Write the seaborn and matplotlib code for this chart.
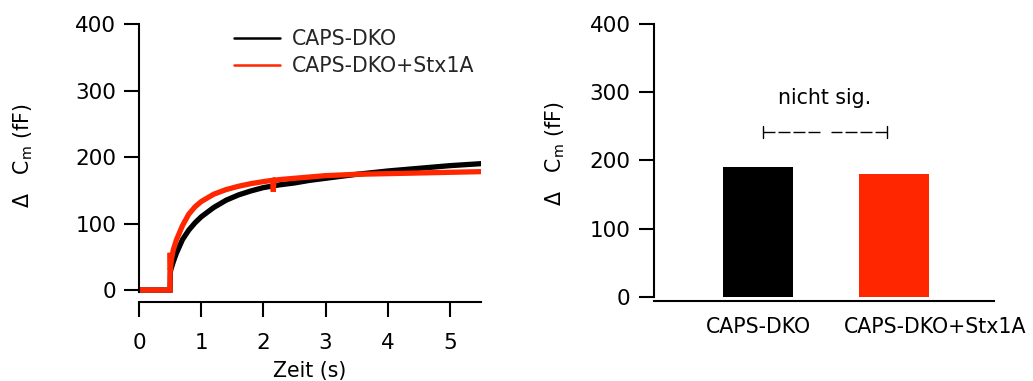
import matplotlib
matplotlib.use("Agg")
import matplotlib.pyplot as plt
import matplotlib.transforms as mtransforms
import seaborn as sns
import pandas as pd

# ---------------- data ----------------
series_names = ["CAPS-DKO", "CAPS-DKO+Stx1A"]
colors = ["#000000", "#ff2600"]

t_dko = [0.0, 0.2, 0.49, 0.5, 0.505, 0.52, 0.55, 0.6, 0.7, 0.8, 0.9, 1.0, 1.2, 1.4,
         1.6, 1.8, 2.0, 2.25, 2.5, 2.75, 3.0, 3.5, 4.0, 4.5, 5.0, 5.5]
cm_dko = [0, 0, 0, 0, 28, 33, 42, 55, 76, 90, 101, 110, 124, 135,
          143, 149, 154, 158, 161, 165, 168, 174, 179, 183, 187, 190]

t_stx = [0.0, 0.2, 0.49, 0.5, 0.502, 0.505, 0.52, 0.55, 0.6, 0.7, 0.8, 0.9, 1.0, 1.2,
         1.4, 1.6, 1.8, 2.0, 2.15, 2.16, 2.17, 2.25, 2.5, 2.75, 3.0, 3.5, 4.0, 4.5,
         5.0, 5.5]
cm_stx = [0, 0, 0, 0, 56, 30, 45, 60, 75, 97, 114, 125, 133, 144,
          151, 156, 160, 163, 165, 148, 165, 166, 168, 170, 172, 174, 175, 176,
          177, 178]

bar_categories = ["CAPS-DKO", "CAPS-DKO+Stx1A"]
bar_values = [191, 180]

sig_text = "nicht sig."
ylabel_text = r"$\Delta$   C$_{\mathrm{m}}$ (fF)"
xlabel_text = "Zeit (s)"
y_ticks = [0, 100, 200, 300, 400]
x_ticks = [0, 1, 2, 3, 4, 5]

# ---------------- style ----------------
sns.set_theme(style="ticks")
plt.rcParams["font.family"] = ["DejaVu Sans"]
plt.rcParams["mathtext.fontset"] = "dejavusans"
FS = 14.8
FS_NUM = 15.5

fig = plt.figure(figsize=(10.33, 3.81), dpi=100)
ax1 = fig.add_axes([139 / 1033, (381 - 302) / 381, 342 / 1033, 278 / 381])
ax2 = fig.add_axes([654 / 1033, (381 - 301) / 381, 340 / 1033, 277 / 381])

# ---------------- left: traces ----------------
df = pd.concat([
    pd.DataFrame({"t": t_dko, "cm": cm_dko, "group": series_names[0]}),
    pd.DataFrame({"t": t_stx, "cm": cm_stx, "group": series_names[1]}),
])
sns.lineplot(data=df, x="t", y="cm", hue="group", hue_order=series_names,
             palette=colors, estimator=None, sort=False, linewidth=3.8,
             legend=False, ax=ax1)
for ln in ax1.get_lines():
    ln.set_solid_joinstyle("miter")

ax1.set_xlim(0, 5.5)
ax1.set_ylim(-18, 400)
ax1.set_xticks(x_ticks)
ax1.set_yticks(y_ticks)
ax1.spines[["top", "right"]].set_visible(False)
ax1.spines["left"].set_bounds(-3, 400)
for sp in ax1.spines.values():
    sp.set_linewidth(1.5)
    sp.set_color("black")
ax1.tick_params(axis="both", length=10.8, width=1.5, color="black",
                labelsize=FS_NUM, labelcolor="black")
ax1.tick_params(axis="x", pad=11.5)
ax1.tick_params(axis="y", pad=5.5)
ax1.set_xlabel(xlabel_text, fontsize=FS, color="black", labelpad=6)
ax1.set_ylabel(ylabel_text, fontsize=FS, color="black")
ax1.yaxis.set_label_coords(-0.304, 0.527)

leg = ax1.legend(ax1.get_lines(), series_names, frameon=False, fontsize=FS,
                 loc="upper left", bbox_to_anchor=(0.278, 0.982),
                 borderpad=0, borderaxespad=0, handlelength=2.23,
                 handletextpad=0.58, labelspacing=0.33)
for h in leg.get_lines():
    h.set_linewidth(1.8)

# ---------------- right: bars ----------------
sns.barplot(x=bar_categories, y=bar_values, hue=bar_categories,
            palette=colors, saturation=1, width=0.515, linewidth=0,
            legend=False, ax=ax2)
ax2.set_xlim(-0.765, 1.735)
ax2.set_ylim(-6, 400)
ax2.set_yticks(y_ticks)
ax2.spines[["top", "right"]].set_visible(False)
ax2.spines["left"].set_bounds(0, 400)
for sp in ax2.spines.values():
    sp.set_linewidth(1.5)
    sp.set_color("black")
ax2.tick_params(axis="y", length=10.8, width=1.5, color="black", pad=6,
                labelsize=FS_NUM, labelcolor="black")
ax2.tick_params(axis="x", length=0, pad=11.5, labelsize=FS, labelcolor="black")
ax2.set_xlabel("")
ax2.set_ylabel(ylabel_text, fontsize=FS, color="black")
ax2.yaxis.set_label_coords(-0.256, 0.533)

# shift second category label to the right as in the reference
shift = mtransforms.ScaledTranslation(0.41, 0, fig.dpi_scale_trans)
lab = ax2.get_xticklabels()[1]
lab.set_transform(lab.get_transform() + shift)

# significance bracket
br_y = 242
br_cap = 8.8
br_left, br_gap_l, br_gap_r, br_right = 0.035, 0.456, 0.535, 0.951
ax2.plot([br_left, br_gap_l], [br_y, br_y], color="black", lw=1.0, dashes=(8.6, 2.2))
ax2.plot([br_right, br_gap_r], [br_y, br_y], color="black", lw=1.0, dashes=(8.6, 2.2))
for xc in (br_left, br_right):
    ax2.plot([xc, xc], [br_y - br_cap, br_y + br_cap], color="black", lw=1.0)
ax2.text(0.493, 291.6, sig_text, ha="center", va="center", fontsize=FS, color="black")

fig.savefig("out.png", dpi=100)
